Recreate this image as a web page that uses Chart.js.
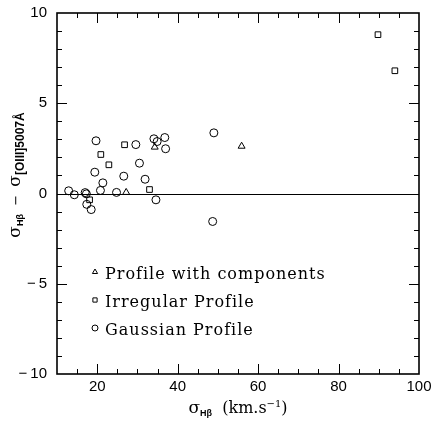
<!DOCTYPE html>
<html>
<head>
<meta charset="utf-8">
<script src="https://cdn.jsdelivr.net/npm/chart.js@4.4.1/dist/chart.umd.min.js"></script>
<style>
  html, body { margin: 0; padding: 0; background: #fff; }
</style>
</head>
<body>
<canvas id="chart" width="435" height="421"></canvas>
<script>
// values: sigma_Hb (km/s) vs sigma_Hb - sigma_[OIII]
const componentsX = [27.2, 34.3, 55.9]
const componentsY = [0.06, 2.57, 2.62]

const irregularX = [18.1, 20.9, 22.9, 26.8, 33.0, 89.8, 94.0]
const irregularY = [-0.35, 2.16, 1.59, 2.7, 0.22, 8.8, 6.8]

const gaussianX = [12.9, 14.3, 17.0, 17.3, 17.4, 18.5, 19.7, 19.4, 21.4, 20.8, 24.8,
  26.6, 29.6, 34.1, 34.9, 36.8, 37.0, 30.5, 31.9, 34.6, 49.0, 48.7]
const gaussianY = [0.15, -0.07, 0.05, -0.02, -0.6, -0.89, 2.92, 1.18, 0.59, 0.17, 0.06,
  0.96, 2.71, 3.03, 2.88, 3.1, 2.48, 1.68, 0.79, -0.35, 3.36, -1.55]

const xTicks = [20, 40, 60, 80, 100]
const yTicks = [-10, -5, 0, 5, 10]

const toPoints = (xs, ys) => xs.map((x, i) => ({ x: x, y: ys[i] }))

const serif = "'DejaVu Serif', serif"
const sans = "'Liberation Sans', Arial, sans-serif"

// draw a run of text pieces (with sub/superscripts) centred on cx
function drawRich(ctx, pieces, cx, baseY) {
  let total = 0
  for (const p of pieces) {
    ctx.font = p.font
    p.w = ctx.measureText(p.t).width
    total += p.w
  }
  let x = cx - total / 2
  ctx.textAlign = "left"
  ctx.textBaseline = "alphabetic"
  for (const p of pieces) {
    ctx.font = p.font
    ctx.fillText(p.t, x, baseY + (p.dy || 0))
    x += p.w
  }
}

const framePlugin = {
  id: "frame",
  beforeDatasetsDraw(chart) {
    const { ctx, chartArea: a, scales: { y } } = chart
    ctx.save()
    ctx.strokeStyle = "#000"
    ctx.lineWidth = 1
    const y0 = Math.round(y.getPixelForValue(0)) + 0.5
    ctx.beginPath()
    ctx.moveTo(a.left, y0)
    ctx.lineTo(a.right, y0)
    ctx.stroke()
    ctx.restore()
  },
  afterDraw(chart) {
    const { ctx, chartArea: a, scales: { x, y } } = chart
    ctx.save()
    ctx.strokeStyle = "#000"
    ctx.fillStyle = "#000"

    // inward ticks on all four sides
    ctx.lineWidth = 1
    ctx.beginPath()
    for (let v = 15; v < 100; v += 5) {
      const px = Math.round(x.getPixelForValue(v)) + 0.5
      const len = v % 20 === 0 ? 10 : 5
      ctx.moveTo(px, a.bottom); ctx.lineTo(px, a.bottom - len)
      ctx.moveTo(px, a.top); ctx.lineTo(px, a.top + len)
    }
    for (let v = -9; v < 10; v++) {
      const py = Math.round(y.getPixelForValue(v)) + 0.5
      const len = v % 5 === 0 ? 10 : 5
      ctx.moveTo(a.left, py); ctx.lineTo(a.left + len, py)
      ctx.moveTo(a.right, py); ctx.lineTo(a.right - len, py)
    }
    ctx.stroke()

    ctx.lineWidth = 1.6
    ctx.strokeRect(a.left, a.top, a.right - a.left, a.bottom - a.top)

    // tick labels
    ctx.font = "15px " + sans
    ctx.textBaseline = "middle"
    ctx.textAlign = "center"
    for (const v of xTicks) {
      ctx.fillText(String(v), x.getPixelForValue(v), a.bottom + 13)
    }
    ctx.textAlign = "right"
    for (const v of yTicks) {
      const lbl = v < 0 ? "\u2212\u2009" + Math.abs(v) : String(v)
      ctx.fillText(lbl, a.left - 10, y.getPixelForValue(v))
    }

    // x axis title
    drawRich(ctx, [
      { t: "\u03c3", font: "17px " + serif },
      { t: "H\u03b2", font: "bold 9px " + sans, dy: 3 },
      { t: "  (km.s", font: "16px " + serif },
      { t: "\u22121", font: "10px " + serif, dy: -6 },
      { t: ")", font: "16px " + serif }
    ], 238, 413)

    // y axis title, rotated
    ctx.save()
    ctx.translate(20, 175)
    ctx.rotate(-Math.PI / 2)
    drawRich(ctx, [
      { t: "\u03c3", font: "17px " + serif },
      { t: "H\u03b2", font: "bold 9px " + sans, dy: 3 },
      { t: "  \u2212  ", font: "13px " + serif },
      { t: "\u03c3", font: "17px " + serif },
      { t: "[OIII]5007\u00c5", font: "bold 12px " + sans, dy: 4 }
    ], 0, 0)
    ctx.restore()

    // legend inside the plot, bottom left
    const rows = [272, 300, 328]
    chart.data.datasets.forEach((ds, i) => {
      ctx.fillStyle = "rgba(0,0,0,0)"
      ctx.strokeStyle = "#000"
      ctx.lineWidth = 1
      Chart.helpers.drawPoint(ctx, {
        pointStyle: ds.pointStyle,
        radius: 3,
        rotation: 0,
        borderWidth: 1
      }, 95, rows[i])
      ctx.fillStyle = "#000"
      ctx.font = "16px " + serif
      ctx.letterSpacing = "1px"
      ctx.textAlign = "left"
      ctx.textBaseline = "alphabetic"
      ctx.fillText(ds.label, 105, rows[i] + 7)
      ctx.letterSpacing = "0px"
    })
    ctx.restore()
  }
}

const base = {
  borderColor: "#000",
  backgroundColor: "rgba(0,0,0,0)",
  borderWidth: 1,
  pointRadius: 4,
  pointHoverRadius: 4
}

new Chart(document.getElementById("chart").getContext("2d"), {
  type: "scatter",
  data: {
    datasets: [
      Object.assign({ label: "Profile with components", data: toPoints(componentsX, componentsY), pointStyle: "triangle" }, base),
      Object.assign({ label: "Irregular Profile", data: toPoints(irregularX, irregularY), pointStyle: "rect" }, base),
      Object.assign({ label: "Gaussian Profile", data: toPoints(gaussianX, gaussianY), pointStyle: "circle" }, base)
    ]
  },
  options: {
    responsive: false,
    animation: false,
    devicePixelRatio: 1,
    layout: { padding: { left: 57, top: 13, right: 16, bottom: 47 } },
    plugins: {
      legend: { display: false },
      tooltip: { enabled: false }
    },
    scales: {
      x: { type: "linear", min: 10, max: 100, display: false },
      y: { type: "linear", min: -10, max: 10, display: false }
    }
  },
  plugins: [framePlugin]
})
</script>
</body>
</html>
